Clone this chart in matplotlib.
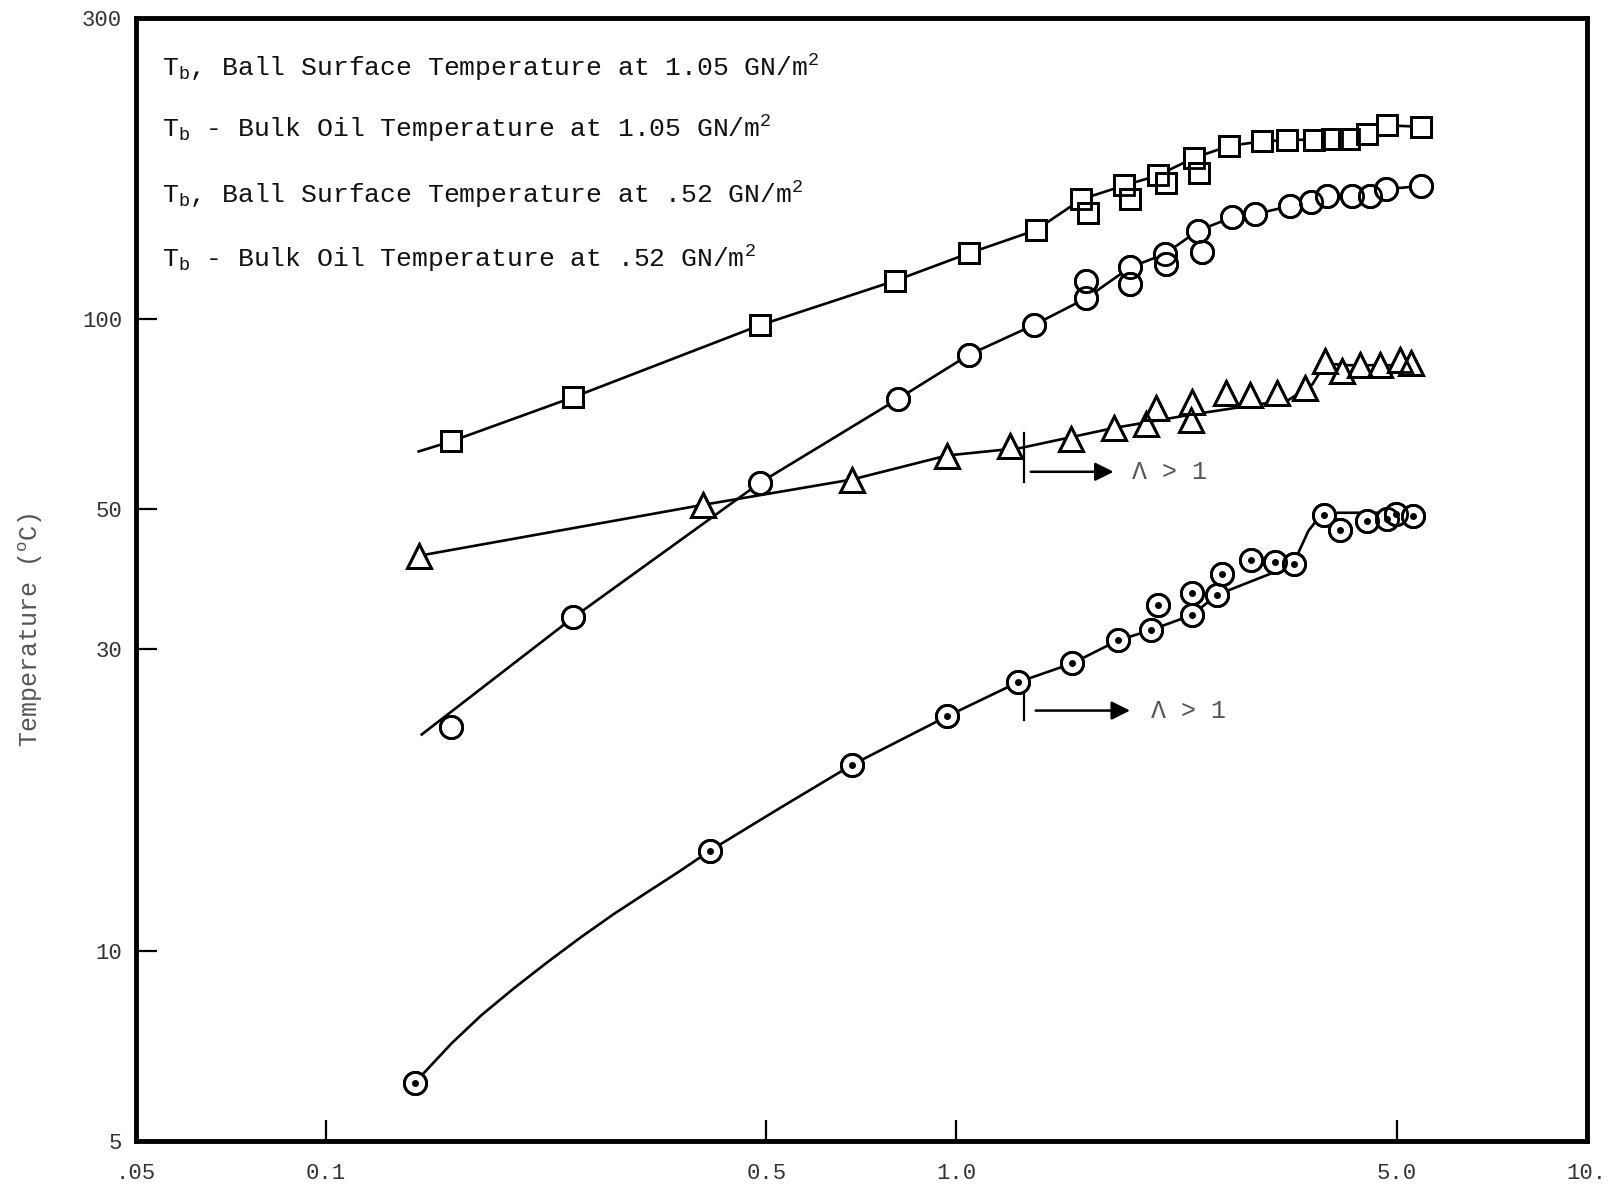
import matplotlib
matplotlib.use('Agg')
import matplotlib.pyplot as plt

# ---- data ----
# Tb, ball surface temperature at 1.05 GN/m2 (squares)
sq_x = [0.158, 0.247, 0.489, 0.799, 1.046, 1.337, 1.58, 1.618, 1.849, 1.887, 2.087, 2.155,
        2.383, 2.427, 2.713, 3.06, 3.344, 3.69, 3.94, 4.20, 4.48, 4.83, 5.46]
sq_y = [64.0, 75.2, 97.8, 114.9, 127.0, 138.2, 154.7, 147.4, 162.7, 154.7, 168.7, 164.4,
        179.9, 170.4, 187.9, 191.1, 191.9, 192.3, 192.6, 192.6, 196.5, 202.5, 201.5]
sq_line_x = [0.1404, 0.158, 0.247, 0.489, 0.799, 1.046, 1.337, 1.58, 1.849, 2.087, 2.383,
             2.713, 3.06, 3.344, 3.69, 3.94, 4.20, 4.48, 4.83, 5.46]
sq_line_y = [61.7, 64.0, 75.2, 97.8, 114.9, 127.0, 138.2, 154.7, 162.7, 168.7, 179.9,
             187.9, 191.1, 191.9, 192.3, 192.6, 192.6, 196.5, 202.5, 201.5]

# Tb, ball surface temperature at .52 GN/m2 (open circles)
oc_x = [0.158, 0.247, 0.489, 0.808, 1.046, 1.33, 1.609, 1.609, 1.887, 1.887, 2.142, 2.152,
        2.417, 2.456, 2.739, 2.98, 3.39, 3.65, 3.87, 4.25, 4.54, 4.80, 5.46]
oc_y = [22.6, 33.7, 55.1, 74.7, 87.7, 97.9, 107.9, 114.8, 120.7, 113.7, 126.7, 122.2,
        137.9, 127.5, 144.8, 146.5, 151.0, 153.1, 156.6, 156.8, 156.6, 160.4, 162.4]
oc_line_x = [0.142, 0.247, 0.489, 0.808, 1.046, 1.33, 1.609, 1.887, 2.142, 2.417, 2.739,
             2.98, 3.39, 3.65, 3.87, 4.25, 4.54, 4.80, 5.46]
oc_line_y = [22.0, 33.7, 55.1, 74.7, 87.7, 97.9, 107.9, 120.7, 126.7, 137.9, 144.8,
             146.5, 151.0, 153.1, 156.6, 156.8, 156.6, 160.4, 162.4]

# Tb - bulk oil temperature at 1.05 GN/m2 (triangles)
tr_x = [0.1407, 0.397, 0.683, 0.967, 1.219, 1.522, 1.781, 2.0, 2.074, 2.36, 2.37, 2.68,
        2.92, 3.23, 3.58, 3.85, 4.09, 4.37, 4.70, 5.05, 5.27]
tr_y = [42.2, 50.8, 55.7, 60.8, 62.9, 64.6, 67.2, 68.2, 72.2, 69.3, 73.8, 76.3,
        75.8, 76.4, 77.7, 85.8, 82.8, 84.7, 84.5, 86.1, 85.1]
tr_line_x = [0.1407, 0.397, 0.683, 0.967, 1.266, 1.777, 2.346, 3.37, 3.67, 3.85, 4.19, 5.27]
tr_line_y = [42.2, 50.8, 55.7, 60.8, 62.5, 67.2, 70.5, 74.5, 78.7, 85.0, 84.5, 84.5]

# Tb - bulk oil temperature at .52 GN/m2 (dotted circles)
dc_x = [0.1385, 0.4067, 0.684, 0.967, 1.252, 1.527, 1.807, 2.04, 2.09, 2.366, 2.366, 2.594,
        2.637, 2.93, 3.20, 3.44, 3.83, 4.07, 4.48, 4.82, 4.99, 5.31]
dc_y = [6.17, 14.4, 19.7, 23.5, 26.6, 28.5, 31.0, 32.2, 35.3, 34.0, 36.9, 36.6,
        39.5, 41.5, 41.3, 40.9, 48.9, 46.4, 47.9, 48.2, 49.1, 48.7]
dc_line_x = [0.1385, 0.1438, 0.1584, 0.1766, 0.1993, 0.2249, 0.2537, 0.2862, 0.3231, 0.3648,
             0.4067, 0.524, 0.684, 0.967, 1.252, 1.527, 1.807, 2.04, 2.366, 2.594, 3.25,
             3.44, 3.50, 3.62, 3.76, 3.83, 4.04, 4.91]
dc_line_y = [6.17, 6.44, 7.14, 7.91, 8.74, 9.60, 10.5, 11.43, 12.37, 13.38,
             14.4, 16.8, 19.7, 23.5, 26.6, 28.5, 31.0, 32.2, 34.0, 36.6, 40.0,
             40.9, 42.95, 46.2, 48.5, 48.9, 49.35, 49.35]

# "Lambda > 1" markers
lam_x = [1.279, 1.279]
lam_y_lo = [55.3, 23.2]
lam_y_hi = [66.0, 26.5]
arrow_x0 = [1.313, 1.337]
arrow_x1 = [1.777, 1.887]
arrow_y = [57.3, 24.0]
lam_text_x = [1.90, 2.04]

x_ticks = [0.05, 0.1, 0.5, 1.0, 5.0, 10.0]
x_tick_labels = ['.05', '0.1', '0.5', '1.0', '5.0', '10.']
y_ticks = [5, 10, 30, 50, 100, 300]
y_tick_labels = ['5', '10', '30', '50', '100', '300']

legend_lines = [
    r'T$_\mathrm{b}$, Ball Surface Temperature at 1.05 GN/m$^\mathrm{2}$',
    r'T$_\mathrm{b}$ - Bulk Oil Temperature at 1.05 GN/m$^\mathrm{2}$',
    r'T$_\mathrm{b}$, Ball Surface Temperature at .52 GN/m$^\mathrm{2}$',
    r'T$_\mathrm{b}$ - Bulk Oil Temperature at .52 GN/m$^\mathrm{2}$',
]

# ---- style ----
plt.rcParams['font.family'] = ['Liberation Mono', 'DejaVu Sans Mono']
plt.rcParams['mathtext.fontset'] = 'custom'
plt.rcParams['mathtext.rm'] = 'Liberation Mono'
plt.rcParams['mathtext.it'] = 'Liberation Mono'

fig = plt.figure(figsize=(16.19, 11.92), dpi=100)
ax = fig.add_axes([0.084, 0.0428, 0.896, 0.9425])
ax.set_xscale('log')
ax.set_yscale('log')
ax.set_xlim(0.05, 10)
ax.set_ylim(5, 300)

lw = 1.9
mk = dict(color='black', linestyle='none', markeredgewidth=2.0)


def draw_series(lx, ly, px, py, marker, size):
    ax.plot(lx, ly, color='black', lw=lw, zorder=2)
    # white fill hides the line inside, second pass keeps all outlines visible
    ax.plot(px, py, marker=marker, markersize=size, markerfacecolor='white', zorder=3, **mk)
    ax.plot(px, py, marker=marker, markersize=size, markerfacecolor='none', zorder=4, **mk)


draw_series(sq_line_x, sq_line_y, sq_x, sq_y, 's', 15)
draw_series(oc_line_x, oc_line_y, oc_x, oc_y, 'o', 16)
draw_series(tr_line_x, tr_line_y, tr_x, tr_y, '^', 17)
draw_series(dc_line_x, dc_line_y, dc_x, dc_y, 'o', 16)
ax.plot(dc_x, dc_y, marker='o', markersize=4, color='black', linestyle='none', zorder=5)

# Lambda > 1 annotations
for i in range(len(lam_x)):
    ax.plot([lam_x[i], lam_x[i]], [lam_y_lo[i], lam_y_hi[i]], color='black', lw=1.6, zorder=2)
    ax.annotate('', xy=(arrow_x1[i], arrow_y[i]), xytext=(arrow_x0[i], arrow_y[i]),
                arrowprops=dict(arrowstyle='-|>', color='black', lw=1.8,
                                mutation_scale=28, shrinkA=0, shrinkB=0))
    ax.text(lam_text_x[i], arrow_y[i], '\u039b > 1', fontsize=18, color='#555555',
            va='center', ha='left')

# axes, ticks
for side in ['top', 'bottom', 'left', 'right']:
    ax.spines[side].set_linewidth(3.5)
ax.minorticks_off()
ax.set_xticks(x_ticks)
ax.set_xticklabels(x_tick_labels)
ax.set_yticks(y_ticks)
ax.set_yticklabels(y_tick_labels)
ax.tick_params(axis='both', which='major', direction='in', length=15, width=1.6,
               labelsize=16, labelcolor='#333333')
ax.tick_params(axis='x', pad=16)
ax.tick_params(axis='y', pad=10)

# legend text block (typed text in the original)
legend_y = [0.9367, 0.8848, 0.8302, 0.7765]
for txt, yy in zip(legend_lines, legend_y):
    fig.text(0.1001, yy, txt, fontsize=19, color='#111111', va='baseline', ha='left')

fig.text(0.019, 0.4715, r'Temperature ($^\mathrm{o}$C)', rotation=90, fontsize=18,
         color='#555555', va='center', ha='center')

fig.savefig('out.png', dpi=100)
